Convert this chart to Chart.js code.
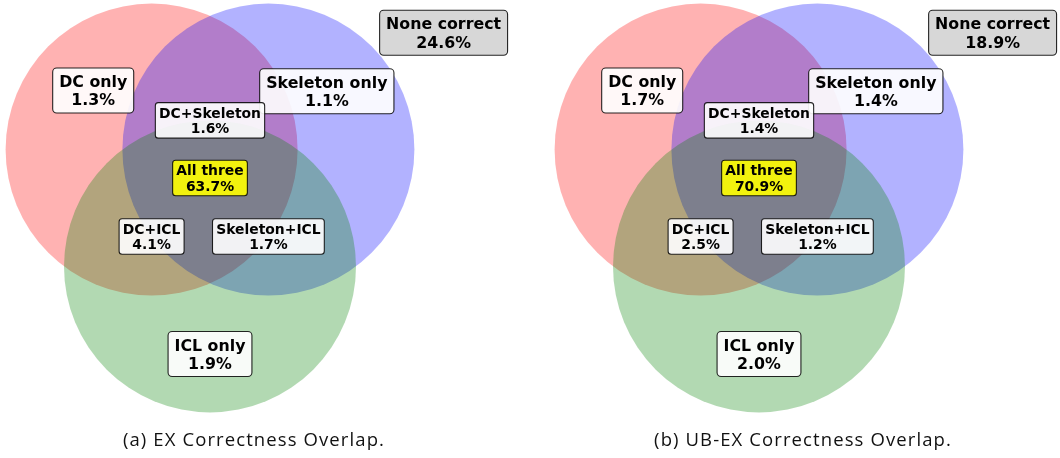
<!DOCTYPE html>
<html>
<head>
<meta charset="utf-8">
<script src="https://cdn.jsdelivr.net/npm/chart.js@4.4.1/dist/chart.umd.min.js"></script>
<style>
  html, body { margin: 0; padding: 0; background: #fff; }
  #wrap { position: relative; width: 1060px; height: 458px; overflow: hidden; }
  .panel { position: absolute; top: 0; width: 511px; height: 458px; }
  .panel canvas { position: absolute; left: 0; top: 0; }
  .caption {
    position: absolute; left: 0; top: 428px; width: 508px;
    text-align: center; font-family: "Open Sans", sans-serif; font-size: 18.5px;
    letter-spacing: 1.1px; line-height: 22px; color: #111;
  }
</style>
</head>
<body>
<div id="wrap">
  <div class="panel" style="left:0px"><canvas id="venn-ex" width="511" height="458"></canvas><div class="caption" id="cap-ex"></div></div>
  <div class="panel" style="left:549px"><canvas id="venn-ubex" width="511" height="458"></canvas><div class="caption" id="cap-ubex"></div></div>
</div>
<script>
// Region shares (%) for each metric
const regionNames = ['DC only', 'Skeleton only', 'DC+Skeleton', 'All three', 'DC+ICL', 'Skeleton+ICL', 'ICL only', 'None correct'];
const exValues = [1.3, 1.1, 1.6, 63.7, 4.1, 1.7, 1.9, 24.6];
const ubExValues = [1.7, 1.4, 1.4, 70.9, 2.5, 1.2, 2.0, 18.9];
const captions = ['(a) EX Correctness Overlap.', '(b) UB-EX Correctness Overlap.'];

// Venn circles, in units of the circle radius
const setNames = ['DC', 'Skeleton', 'ICL'];
const setX = [-0.4, 0.4, 0];
const setY = [0.4, 0.4, -0.4];
const setR = [1, 1, 1];

// where each region label sits (same units)
const labelX = [-0.80, 0.80, 0, 0, -0.40, 0.40, 0, 1.60];
const labelY = [0.805, 0.80, 0.60, 0.205, -0.195, -0.195, -1.0, 1.20];

const setColors = ['rgba(255,0,0,0.3)', 'rgba(0,0,255,0.3)', 'rgba(0,128,0,0.3)'];
const bigLabels = [0, 1, 6, 7];

// pixel layout of a panel
const W = 511, H = 458, ORIGIN_X = 210, ORIGIN_Y = 208, UNIT = 146;

function labelFill(i) {
  if (i === 3) return 'rgba(255,255,0,0.9)';
  if (i === 7) return 'rgba(211,211,211,0.9)';
  return 'rgba(255,255,255,0.9)';
}

function drawLabel(ctx, cx, cy, lines, big, fill) {
  const size = big ? 15.8 : 13.9;
  ctx.font = `bold ${size}px "DejaVu Sans"`;
  const tw = Math.max(...lines.map(t => ctx.measureText(t).width));
  const w = tw + (big ? 13 : 7.4);
  const h = big ? 45 : 35.5;
  const gap = size * (big ? 1.17 : 1.13);
  const cap = size * 0.73;

  ctx.beginPath();
  ctx.roundRect(cx - w / 2, cy - h / 2, w, h, big ? 4 : 3);
  ctx.fillStyle = fill;
  ctx.fill();
  ctx.lineWidth = 1.1;
  ctx.strokeStyle = 'rgba(0,0,0,0.85)';
  ctx.stroke();

  ctx.fillStyle = '#000';
  ctx.textAlign = 'center';
  ctx.textBaseline = 'alphabetic';
  const b1 = cy - gap / 2 + cap / 2;
  ctx.fillText(lines[0], cx, b1);
  ctx.fillText(lines[1], cx, b1 + gap);
}

function makeLabelPlugin(values) {
  return {
    id: 'vennLabels',
    afterDatasetsDraw(chart) {
      const ctx = chart.ctx;
      const xs = chart.scales.x, ys = chart.scales.y;
      ctx.save();
      regionNames.forEach((name, i) => {
        const px = xs.getPixelForValue(labelX[i]);
        const py = ys.getPixelForValue(labelY[i]);
        drawLabel(ctx, px, py, [name, values[i].toFixed(1) + '%'], bigLabels.includes(i), labelFill(i));
      });
      ctx.restore();
    }
  };
}

function renderVenn(canvasId, values) {
  const canvas = document.getElementById(canvasId);
  const circles = setNames.map((s, i) => ({ x: setX[i], y: setY[i], r: setR[i] }));
  const radiusPx = (c) => {
    const s = c.chart.scales.x;
    return s.getPixelForValue(c.raw.r) - s.getPixelForValue(0);
  };

  return new Chart(canvas, {
    type: 'scatter',
    data: {
      datasets: [{
        label: 'sets',
        data: circles,
        backgroundColor: setColors,
        borderWidth: 0,
        pointRadius: radiusPx,
        pointHoverRadius: radiusPx,
        pointHitRadius: 0
      }]
    },
    plugins: [makeLabelPlugin(values)],
    options: {
      responsive: false,
      animation: false,
      devicePixelRatio: 1,
      events: [],
      layout: { padding: 0, autoPadding: false },
      plugins: { legend: { display: false }, tooltip: { enabled: false } },
      scales: {
        x: { type: 'linear', display: false, min: -ORIGIN_X / UNIT, max: (W - ORIGIN_X) / UNIT },
        y: { type: 'linear', display: false, min: -(H - ORIGIN_Y) / UNIT, max: ORIGIN_Y / UNIT }
      }
    }
  });
}

renderVenn('venn-ex', exValues);
renderVenn('venn-ubex', ubExValues);
document.getElementById('cap-ex').textContent = captions[0];
document.getElementById('cap-ubex').textContent = captions[1];
</script>
</body>
</html>
